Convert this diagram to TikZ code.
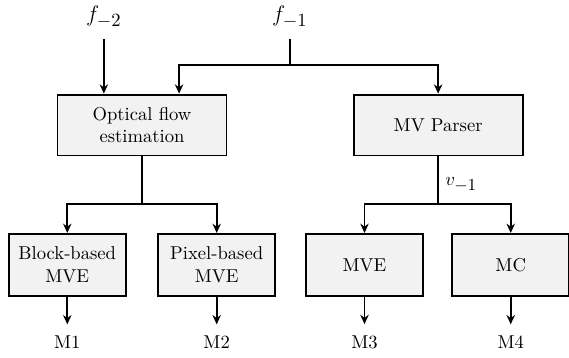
\documentclass[tikz,border=0pt]{standalone}
\usepackage{amsmath}
\usetikzlibrary{arrows.meta}

% index set a bit larger than a plain subscript
\newcommand{\idx}[2]{_{\mbox{#1$#2$}}}

\begin{document}
\begin{tikzpicture}[>={Stealth[length=5pt,width=4.5pt]},
                    wide/.style={minimum width=3.19cm,minimum height=1.15cm},
                    narrow/.style={minimum width=2.21cm,minimum height=1.17cm}]
	\useasboundingbox (0,0) rectangle (10.74,-6.755);

	% processing blocks
	\begin{scope}[every node/.style={draw,line width=1pt,fill=gray!10,align=center,inner sep=2pt}]
	    \node[wide]   (flow)   at (2.68,-2.36) {Optical flow\\estimation};
	    \node[wide]   (parser) at (8.27,-2.36) {MV Parser};
	    \node[narrow] (block)  at (1.27,-5.0)  {Block-based\\MVE};
	    \node[narrow] (pixel)  at (4.09,-5.0)  {Pixel-based\\MVE};
	    \node[narrow] (mve)    at (6.88,-5.0)  {MVE};
	    \node[narrow] (mc)     at (9.64,-5.0)  {MC};
	\end{scope}

	% inputs and outputs
	\begin{scope}[every node/.style={inner sep=6pt}]
	    \node (f2) at (1.96,-0.32) {\large $f\idx{\normalsize}{-2}$};
	    \node (f1) at (5.47,-0.32) {\large $f\idx{\normalsize}{-1}$};
	    \node (m1) at (1.27,-6.46) {M1};
	    \node (m2) at (4.09,-6.46) {M2};
	    \node (m3) at (6.88,-6.46) {M3};
	    \node (m4) at (9.64,-6.46) {M4};
	\end{scope}

	% branch points
	\coordinate (ft) at (5.47,-1.23);
	\coordinate (fl) at (3.38,-1.23);
	\coordinate (fb) at (2.68,-3.85);
	\coordinate (pb) at (8.27,-3.85);

	\begin{scope}[line width=1pt]
	    \draw[->] (f2) -- (f2 |- flow.north);
	    \draw (f1) -- (ft);
	    \draw[->] (ft) -- (fl) -- (fl |- flow.north);
	    \draw[->] (ft) -| (parser);
	    \draw (flow) -- (fb);
	    \draw[->] (fb) -| (block);
	    \draw[->] (fb) -| (pixel);
	    \draw (parser) -- node[pos=0.6,right] {$v\idx{\small}{-1}$} (pb);
	    \draw[->] (pb) -| (mve);
	    \draw[->] (pb) -| (mc);
	    \draw[->] (block) -- (m1);
	    \draw[->] (pixel) -- (m2);
	    \draw[->] (mve) -- (m3);
	    \draw[->] (mc) -- (m4);
	\end{scope}
\end{tikzpicture}
\end{document}
